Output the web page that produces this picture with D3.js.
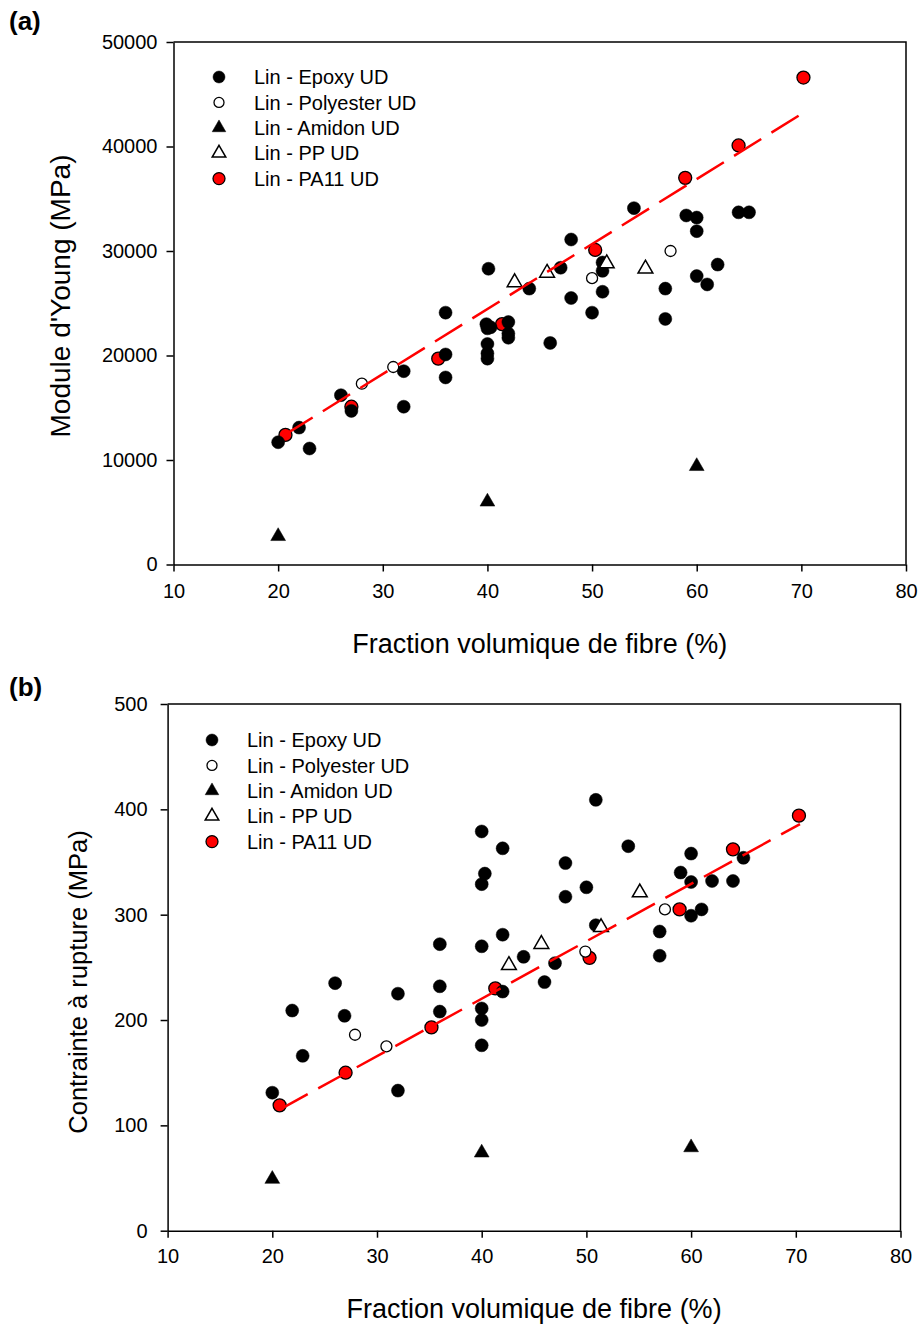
<!DOCTYPE html>
<html>
<head>
<meta charset="utf-8">
<script src="https://d3js.org/d3.v7.min.js"></script>
<style>
  body { margin: 0; background: #fff; }
  svg { display: block; font-family: "Liberation Sans", Arial, sans-serif; }
</style>
</head>
<body>
<svg id="drawing_region"></svg>
<script>
// ---- data (a) : Module d'Young (MPa) vs fraction volumique (%)
const epoxyA = [[20,11700],[22,13100],[23,11100],[26,16200],[27,14700],[32,18500],[32,15100],
  [36,24100],[36,20100],[36,17900],[40.1,28300],[39.9,23000],[40.3,22700],[40,22600],[40,21100],
  [40,20200],[40,19700],[42,23200],[42,22100],[42,21700],[44,26400],[46,21200],[47,28400],
  [48,31100],[48,25500],[50,24100],[51,28900],[51,28100],[51,26100],[54,34100],[57,26400],
  [57,23500],[59,33400],[60,33200],[60,31900],[60,27600],[61,26800],[62,28700],[64,33700],[65,33700]];
const polyesterA = [[28,17300],[31,18900],[50,27400],[57.5,30000]];
const amidonA = [[20,2700],[40,6000],[60,9400]];
const ppA = [[42.6,27000],[45.7,27900],[51.4,28800],[55.1,28300]];
const pa11A = [[20.7,12400],[27,15100],[35.3,19700],[41.4,23000],[50.3,30100],[58.9,37000],[64,40100],[70.2,46600]];
const fitA = [[20.7,12450],[70.4,43350]];

// ---- data (b) : Contrainte à rupture (MPa)
const epoxyB = [[20,131],[21.9,209],[22.9,166],[26,235],[26.9,204],[32,225],[32,133],[36,272],
  [36,232],[36,208],[40,379],[40.3,339],[40,329],[40,270],[40,211],[40,200],[40,176],[42,363],
  [42,281],[42,227],[44,260],[46,236],[47,254],[48,349],[48,317],[50,326],[50.9,409],[50.9,290],
  [54,365],[57,284],[57,261],[59,340],[60,358],[60,331],[60,299],[61,305],[62,332],[64,332],[65,354]];
const polyesterB = [[27.9,186],[30.9,175],[49.9,265],[57.5,305]];
const amidonB = [[20,49],[40,74],[60,79]];
const ppB = [[42.6,252],[45.7,272],[51.4,288],[55.1,321]];
const pa11B = [[20.7,119],[27,150],[35.2,193],[41.3,230],[50.3,259],[58.9,305],[64,362],[70.3,394]];
const fitB = [[20.7,115],[70.4,386]];

const seriesNames = ["Lin - Epoxy UD", "Lin - Polyester UD", "Lin - Amidon UD", "Lin - PP UD", "Lin - PA11 UD"];
const seriesKinds = ["dot", "ring", "tri", "opentri", "red"];
const xTicks = [10, 20, 30, 40, 50, 60, 70, 80];
const yTicksA = [0, 10000, 20000, 30000, 40000, 50000];
const yTicksB = [0, 100, 200, 300, 400, 500];

const svg = d3.select('#drawing_region')
  .attr('width', 920)
  .attr('height', 1324);

class ScatterChart {
  constructor(config, data) {
    this.config = config;
    this.data = data;
    this.init();
  }

  init() {
    let self = this;
    let c = self.config;

    self.chart = svg.append('g')
      .attr('transform', `translate(${c.left}, ${c.top})`);

    self.inner_width = c.width;
    self.inner_height = c.height;

    self.xscale = d3.scaleLinear()
      .domain([10, 80])
      .range([0, self.inner_width]);

    self.yscale = d3.scaleLinear()
      .domain([c.yTicks[0], c.yTicks[c.yTicks.length - 1]])
      .range([self.inner_height, 0]);

    self.xaxis = d3.axisBottom(self.xscale)
      .tickValues(xTicks)
      .tickSize(7)
      .tickPadding(c.xPad)
      .tickSizeOuter(0);

    self.yaxis = d3.axisLeft(self.yscale)
      .tickValues(c.yTicks)
      .tickFormat(d3.format('d'))
      .tickSize(7)
      .tickPadding(c.yPad)
      .tickSizeOuter(0);
  }

  render() {
    let self = this;
    let c = self.config;

    // frame (top and right)
    self.chart.append('path')
      .attr('d', `M0,0H${self.inner_width}V${self.inner_height}`)
      .attr('fill', 'none')
      .attr('stroke', '#000')
      .attr('stroke-width', 1.5);

    let xg = self.chart.append('g')
      .attr('transform', `translate(0, ${self.inner_height})`)
      .call(self.xaxis);
    let yg = self.chart.append('g')
      .call(self.yaxis);

    [xg, yg].forEach(g => {
      g.selectAll('path, line').attr('stroke', '#000').attr('stroke-width', 1.5);
      g.selectAll('text').attr('font-size', '20px').attr('fill', '#000')
        .attr('font-family', '"Liberation Sans", Arial, sans-serif');
    });

    // points, PA11 first so the others sit over it
    const order = [4, 0, 1, 2, 3];
    order.forEach(i => {
      self.drawMarks(self.chart, self.data.series[i], seriesKinds[i],
        d => self.xscale(d[0]), d => self.yscale(d[1]), 6.5, 95);
    });

    // red dashed fit line
    let line = d3.line()
      .x(d => self.xscale(d[0]))
      .y(d => self.yscale(d[1]));
    self.chart.append('path')
      .datum(self.data.fit)
      .attr('d', line)
      .attr('fill', 'none')
      .attr('stroke', '#ff0000')
      .attr('stroke-width', 2.5)
      .attr('stroke-dasharray', '32,12');

    // legend
    let lg = svg.append('g');
    seriesNames.forEach((name, i) => {
      let y = c.legY + i * 25.4;
      self.drawMarks(lg, [[0, y]], seriesKinds[i], () => c.legX, d => d[1], 6, 80);
      lg.append('text')
        .attr('x', c.legX + 35)
        .attr('y', y)
        .attr('dy', '0.36em')
        .attr('font-size', '20px')
        .attr('fill', '#000')
        .text(name);
    });

    // titles
    svg.append('text')
      .attr('x', c.left + self.inner_width / 2 + c.xTitleShift)
      .attr('y', c.xTitleY)
      .attr('text-anchor', 'middle')
      .attr('font-size', '27px')
      .attr('fill', '#000')
      .text('Fraction volumique de fibre (%)');

    svg.append('text')
      .attr('transform', `translate(${c.yTitleX}, ${c.yTitleY}) rotate(-90)`)
      .attr('text-anchor', 'middle')
      .attr('font-size', c.yTitleSize)
      .attr('fill', '#000')
      .text(c.yTitle);

    svg.append('text')
      .attr('x', 9)
      .attr('y', c.labelY)
      .attr('font-size', '26px')
      .attr('font-weight', 'bold')
      .attr('fill', '#000')
      .text(c.label);
  }

  drawMarks(parent, pts, kind, fx, fy, r, triSize) {
    if (kind === 'tri' || kind === 'opentri') {
      parent.selectAll(null).data(pts).join('path')
        .attr('d', d3.symbol(d3.symbolTriangle, triSize))
        .attr('transform', d => `translate(${fx(d)}, ${fy(d)})`)
        .attr('fill', kind === 'tri' ? '#000' : '#fff')
        .attr('stroke', '#000')
        .attr('stroke-width', kind === 'tri' ? 0.5 : 1.5);
    } else {
      parent.selectAll(null).data(pts).join('circle')
        .attr('cx', fx)
        .attr('cy', fy)
        .attr('r', kind === 'ring' ? r - 1 : r)
        .attr('fill', kind === 'dot' ? '#000' : kind === 'red' ? '#ff0000' : '#fff')
        .attr('stroke', '#000')
        .attr('stroke-width', kind === 'dot' ? 0.5 : 1.3);
    }
  }
}

const chartA = new ScatterChart({
  left: 173.5, top: 42, width: 732.5, height: 522.5,
  yTicks: yTicksA, xPad: 12, yPad: 9,
  legX: 219, legY: 77,
  xTitleY: 653, xTitleShift: 0,
  yTitleX: 70, yTitleY: 296, yTitle: "Module d'Young (MPa)", yTitleSize: '28px',
  label: '(a)', labelY: 30
}, { series: [epoxyA, polyesterA, amidonA, ppA, pa11A], fit: fitA });
chartA.render();

const chartB = new ScatterChart({
  left: 167.6, top: 704, width: 732.9, height: 526.7,
  yTicks: yTicksB, xPad: 11, yPad: 13,
  legX: 212, legY: 740,
  xTitleY: 1318, xTitleShift: 0,
  yTitleX: 87, yTitleY: 982, yTitle: 'Contrainte à rupture (MPa)', yTitleSize: '25.5px',
  label: '(b)', labelY: 696
}, { series: [epoxyB, polyesterB, amidonB, ppB, pa11B], fit: fitB });
chartB.render();
</script>
</body>
</html>
